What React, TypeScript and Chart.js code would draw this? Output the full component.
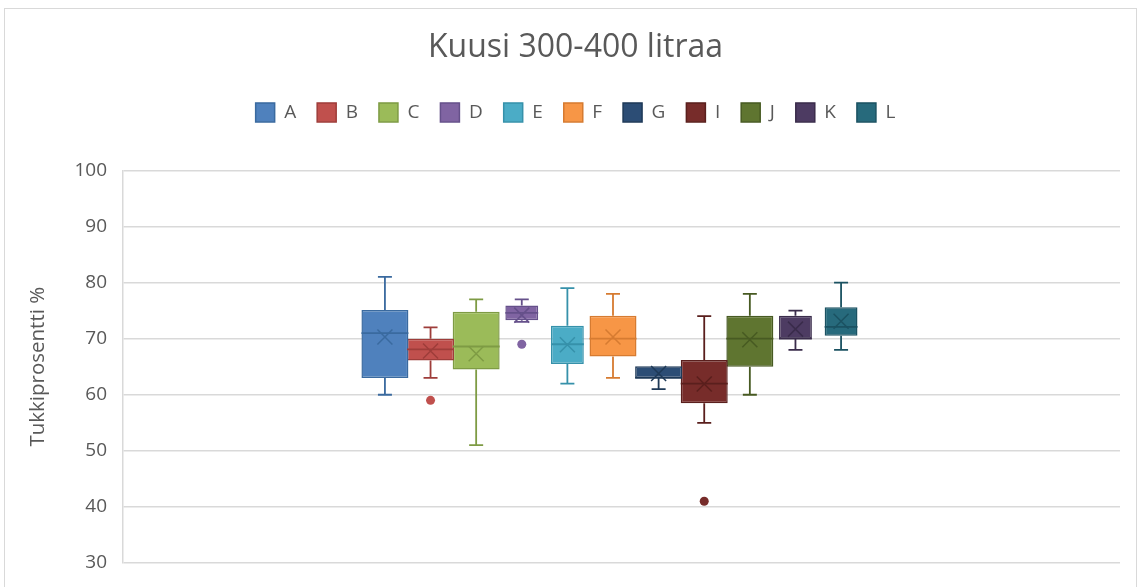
import React, { useEffect, useRef } from 'react';
import { Chart, registerables } from 'chart.js';

Chart.register(...registerables);

const chartTitle = 'Kuusi 300-400 litraa';
const yAxisTitle = 'Tukkiprosentti %';
const categoryLabels = [''];
const seriesNames = ['A', 'B', 'C', 'D', 'E', 'F', 'G', 'I', 'J', 'K', 'L'];
const minValues = [60, 63, 51, 73, 62, 63, 61, 55, 60, 68, 68];
const q1Values = [63, 66.1, 64.5, 73.3, 65.5, 66.8, 63, 58.5, 65, 70, 70.5];
const medianValues = [71, 68.1, 68.6, 74.6, 69, 70, 63, 62, 70, 70, 72.1];
const q3Values = [75.1, 70, 74.8, 75.9, 72.3, 74.1, 65.1, 66.2, 74.1, 74.1, 75.6];
const maxValues = [81, 72, 77, 77, 79, 78, 65.1, 74, 78, 75, 80];
const meanValues = [70.3, 67.8, 67.3, 74.2, 68.9, 70.3, 63.8, 61.9, 69.8, 71.7, 73.1];
const outlierValues = [[], [59], [], [69], [], [], [], [41], [], [], []];
const yTicks = { min: 30, max: 100, step: 10 };

const fillColors = ['#4F81BD', '#C0504D', '#9BBB59', '#8064A2', '#4BACC6', '#F79646', '#2C4D75', '#772C2A', '#5F7530', '#4D3B62', '#276A7C'];
const lineColors = ['#3A6A9F', '#9E3D3A', '#7E9B44', '#65508A', '#3691AA', '#D67B31', '#1E3957', '#5A1F1D', '#475A22', '#3A2C4B', '#1B5262'];
const narrowSeries = ['D', 'E', 'K', 'L'];

const FONT = "'Open Sans', 'Liberation Sans', sans-serif";
const TEXT = '#595959';
const GRID = '#d9d9d9';

const framePlugin = {
  id: 'frame',
  beforeDraw(chart: any) {
    const { ctx, width, height } = chart;
    ctx.save();
    ctx.fillStyle = '#ffffff';
    ctx.fillRect(0, 0, width, height);
    ctx.strokeStyle = '#d9d9d9';
    ctx.lineWidth = 1;
    ctx.strokeRect(4.5, 8.5, width - 6, height + 20);
    ctx.restore();
  },
};

const boxWhiskerPlugin = {
  id: 'boxWhisker',
  afterDatasetsDraw(chart: any) {
    const { ctx } = chart;
    const y = chart.scales.y;
    ctx.save();
    chart.data.datasets.forEach((_ds: any, i: number) => {
      const meta = chart.getDatasetMeta(i);
      if (meta.hidden || !meta.data[0]) return;
      const bar = meta.data[0];
      const { x, width } = bar.getProps(['x', 'width'], true);
      const yMin = y.getPixelForValue(minValues[i]);
      const yQ1 = y.getPixelForValue(q1Values[i]);
      const yMed = y.getPixelForValue(medianValues[i]);
      const yQ3 = y.getPixelForValue(q3Values[i]);
      const yMax = y.getPixelForValue(maxValues[i]);
      const yMean = y.getPixelForValue(meanValues[i]);
      const cap = 7;
      const xs = 7.5;
      ctx.strokeStyle = lineColors[i];
      ctx.lineWidth = 1.8;
      ctx.beginPath();
      if (maxValues[i] > q3Values[i]) {
        ctx.moveTo(x, yQ3);
        ctx.lineTo(x, yMax);
        ctx.moveTo(x - cap, yMax);
        ctx.lineTo(x + cap, yMax);
      }
      if (minValues[i] < q1Values[i]) {
        ctx.moveTo(x, yQ1);
        ctx.lineTo(x, yMin);
        ctx.moveTo(x - cap, yMin);
        ctx.lineTo(x + cap, yMin);
      }
      ctx.moveTo(x - width / 2, yMed);
      ctx.lineTo(x + width / 2, yMed);
      ctx.stroke();
      ctx.lineWidth = 1.5;
      ctx.beginPath();
      ctx.moveTo(x - xs, yMean - xs);
      ctx.lineTo(x + xs, yMean + xs);
      ctx.moveTo(x - xs, yMean + xs);
      ctx.lineTo(x + xs, yMean - xs);
      ctx.stroke();
      ctx.fillStyle = fillColors[i];
      outlierValues[i].forEach((v) => {
        ctx.beginPath();
        ctx.arc(x, y.getPixelForValue(v), 4.5, 0, Math.PI * 2);
        ctx.fill();
      });
    });
    ctx.restore();
  },
};

export default function App() {
  const ref = useRef<HTMLCanvasElement>(null);
  useEffect(() => {
    document.body.style.margin = '0';
    const datasets = seriesNames.map((name, i) => ({
      label: name,
      data: [[q1Values[i], q3Values[i]]],
      backgroundColor: fillColors[i],
      borderColor: lineColors[i],
      borderWidth: 1.5,
      borderSkipped: false,
      barPercentage: narrowSeries.includes(name) ? 0.72 : 1.03,
      categoryPercentage: 0.512,
    }));
    const chart = new Chart(ref.current as HTMLCanvasElement, {
      type: 'bar',
      data: { labels: categoryLabels, datasets: datasets as any },
      plugins: [framePlugin, boxWhiskerPlugin],
      options: {
        animation: false,
        responsive: false,
        devicePixelRatio: 1,
        font: { family: FONT },
        layout: { padding: { left: 13, right: 0, top: 0, bottom: 24 } },
        plugins: {
          tooltip: { enabled: false },
          title: {
            display: true,
            text: chartTitle,
            color: TEXT,
            font: { family: FONT, size: 32, weight: 'normal' },
            padding: { top: 28.5, bottom: 15 },
          },
          subtitle: {
            display: true,
            text: '',
            weight: 500,
            font: { family: FONT, size: 10 },
            padding: { top: 26.5, bottom: 0 },
          } as any,
          legend: {
            display: true,
            position: 'top',
            labels: {
              boxWidth: 19,
              boxHeight: 19,
              padding: 21,
              color: TEXT,
              font: { family: FONT, size: 19 },
            },
          },
        },
        scales: {
          x: {
            type: 'category',
            display: false,
            grid: { display: false },
          },
          y: {
            type: 'linear',
            position: 'left',
            min: yTicks.min,
            max: yTicks.max,
            ticks: {
              stepSize: yTicks.step,
              color: TEXT,
              padding: 16,
              font: { family: FONT, size: 19 },
            },
            grid: { color: GRID, lineWidth: 1.5, drawTicks: false },
            border: { display: true, color: GRID, width: 1.5 },
            title: {
              display: true,
              text: yAxisTitle,
              color: TEXT,
              font: { family: FONT, size: 20.5 },
              padding: { top: 13, bottom: 0 },
            },
            afterFit: (scale: any) => {
              scale.width = 110;
              scale.paddingTop = 12;
              scale.paddingBottom = 12;
            },
          },
          y2: {
            type: 'linear',
            position: 'right',
            display: true,
            min: yTicks.min,
            max: yTicks.max,
            ticks: { stepSize: yTicks.step, display: false },
            grid: { drawOnChartArea: false, drawTicks: true, tickLength: 17, color: GRID, lineWidth: 1.5 },
            border: { display: false },
            afterFit: (scale: any) => {
              scale.width = 35;
              scale.paddingTop = 0;
              scale.paddingBottom = 0;
            },
          },
        },
      } as any,
    });
    return () => chart.destroy();
  }, []);
  return (
    <div style={{ width: 1138, height: 587 }}>
      <canvas ref={ref} width={1138} height={587} style={{ display: 'block' }} />
    </div>
  );
}
